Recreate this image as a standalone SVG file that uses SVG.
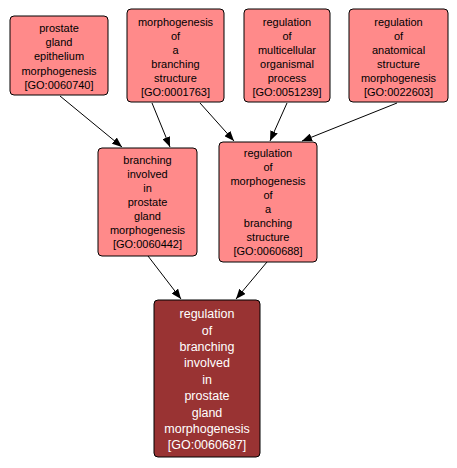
<svg xmlns="http://www.w3.org/2000/svg" width="457" height="468" viewBox="0 0 457 468">
<style>
.n rect{fill:#ff8a8a;stroke:#000;stroke-width:1}
.d rect{fill:#993333;stroke:#000;stroke-width:1}
.n text{font-family:"Liberation Sans",Arial,sans-serif;font-size:11px;fill:#000;text-anchor:middle}
.d text{font-family:"Liberation Sans",Arial,sans-serif;font-size:12.5px;fill:#fff;text-anchor:middle}
.e line{stroke:#000;stroke-width:1;marker-end:url(#a)}
</style>
<defs>
<marker id="a" markerWidth="10" markerHeight="8" refX="10" refY="4" orient="auto" markerUnits="userSpaceOnUse">
<path d="M0,0 L10,4 L0,8 Z" fill="#000"/>
</marker>
</defs>
<rect width="457" height="468" fill="#fff"/>
<g class="e">
<line x1="60" y1="96" x2="122" y2="147"/>
<line x1="152" y1="103" x2="170" y2="147"/>
<line x1="200" y1="103" x2="234" y2="141"/>
<line x1="287" y1="103" x2="270" y2="141"/>
<line x1="397" y1="103" x2="302" y2="141"/>
<line x1="148" y1="256" x2="181" y2="299"/>
<line x1="267" y1="262" x2="236" y2="299"/>
</g>
<g id="GO0060740" class="n">
<rect x="10" y="16" width="98" height="79" rx="4"/>
<text x="59" y="32">prostate</text>
<text x="59" y="46">gland</text>
<text x="59" y="60">epithelium</text>
<text x="59" y="75">morphogenesis</text>
<text x="59" y="89">[GO:0060740]</text>
</g>
<g id="GO0001763" class="n">
<rect x="127" y="9" width="97" height="93" rx="4"/>
<text x="175.5" y="26">morphogenesis</text>
<text x="175.5" y="40">of</text>
<text x="175.5" y="54">a</text>
<text x="175.5" y="68">branching</text>
<text x="175.5" y="82">structure</text>
<text x="175.5" y="96">[GO:0001763]</text>
</g>
<g id="GO0051239" class="n">
<rect x="244" y="9" width="86" height="93" rx="4"/>
<text x="287" y="26">regulation</text>
<text x="287" y="40">of</text>
<text x="287" y="54">multicellular</text>
<text x="287" y="68">organismal</text>
<text x="287" y="82">process</text>
<text x="287" y="96">[GO:0051239]</text>
</g>
<g id="GO0022603" class="n">
<rect x="349" y="9" width="99" height="93" rx="4"/>
<text x="398.5" y="26">regulation</text>
<text x="398.5" y="40">of</text>
<text x="398.5" y="54">anatomical</text>
<text x="398.5" y="68">structure</text>
<text x="398.5" y="82">morphogenesis</text>
<text x="398.5" y="96">[GO:0022603]</text>
</g>
<g id="GO0060442" class="n">
<rect x="98" y="148" width="99" height="108" rx="4"/>
<text x="147.5" y="164">branching</text>
<text x="147.5" y="178">involved</text>
<text x="147.5" y="192">in</text>
<text x="147.5" y="206">prostate</text>
<text x="147.5" y="220">gland</text>
<text x="147.5" y="234">morphogenesis</text>
<text x="147.5" y="248">[GO:0060442]</text>
</g>
<g id="GO0060688" class="n">
<rect x="219" y="142" width="98" height="120" rx="4"/>
<text x="268" y="157">regulation</text>
<text x="268" y="171">of</text>
<text x="268" y="185">morphogenesis</text>
<text x="268" y="199">of</text>
<text x="268" y="213">a</text>
<text x="268" y="227">branching</text>
<text x="268" y="241">structure</text>
<text x="268" y="255">[GO:0060688]</text>
</g>
<g id="GO0060687" class="d">
<rect x="154" y="300" width="106" height="157" rx="4"/>
<text x="207" y="318">regulation</text>
<text x="207" y="335">of</text>
<text x="207" y="351">branching</text>
<text x="207" y="367">involved</text>
<text x="207" y="384">in</text>
<text x="207" y="400">prostate</text>
<text x="207" y="417">gland</text>
<text x="207" y="433">morphogenesis</text>
<text x="207" y="449">[GO:0060687]</text>
</g>
</svg>
